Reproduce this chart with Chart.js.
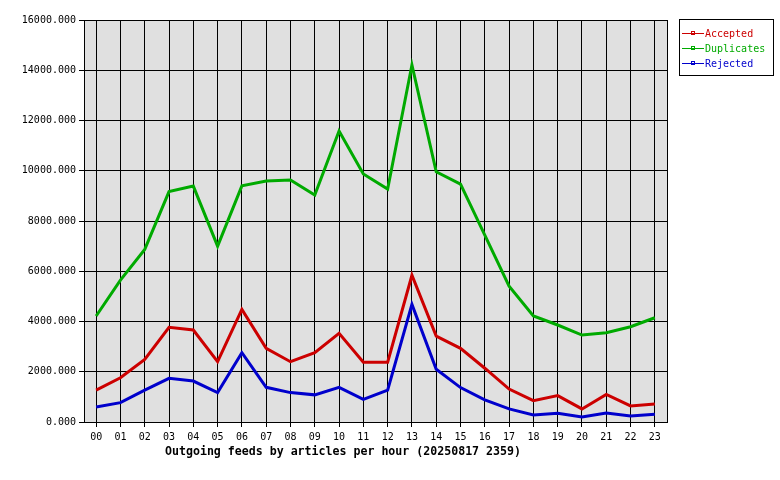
<!DOCTYPE html>
<html>
<head>
<meta charset="utf-8">
<script src="https://cdn.jsdelivr.net/npm/chart.js@4"></script>
<style>
  html,body{margin:0;padding:0;background:#fff;}
  #wrap{width:780px;height:480px;position:relative;}
</style>
</head>
<body>
<div id="wrap"><canvas id="c" width="780" height="480"></canvas></div>
<script>
const hours = ["00","01","02","03","04","05","06","07","08","09","10","11","12","13","14","15","16","17","18","19","20","21","22","23"];
const accepted   = [1270,1760,2490,3770,3660,2400,4480,2930,2400,2760,3530,2380,2380,5840,3420,2930,2140,1310,850,1050,520,1100,640,720];
const duplicates = [4220,5650,6870,9170,9390,7000,9400,9590,9630,9030,11580,9870,9270,14210,9960,9470,7440,5410,4220,3860,3460,3550,3790,4150];
const rejected   = [600,770,1270,1740,1630,1170,2760,1380,1170,1080,1380,900,1270,4680,2100,1370,880,520,280,350,200,360,240,310];
const yTicks = [0,2000,4000,6000,8000,10000,12000,14000,16000];
const seriesNames = ["Accepted","Duplicates","Rejected"];
const titleText = "Outgoing feeds by articles per hour (20250817 2359)";

const colors = ["#cc0000","#00aa00","#0000cc"];
const MONO = "'DejaVu Sans Mono', monospace";

const bgPlugin = {
  id:'bg',
  beforeDraw(chart){
    const {ctx, chartArea:a} = chart;
    ctx.save();
    ctx.fillStyle = '#e0e0e0';
    ctx.fillRect(a.left, a.top, a.right-a.left, a.bottom-a.top);
    ctx.restore();
  },
  afterDraw(chart){
    const {ctx, chartArea:a} = chart;
    ctx.save();
    ctx.strokeStyle = '#000';
    ctx.lineWidth = 1;
    ctx.strokeRect(Math.round(a.left)+0.5, Math.round(a.top)+0.5, Math.round(a.right-a.left), Math.round(a.bottom-a.top));
    // title
    ctx.fillStyle = '#000';
    ctx.font = "bold 11.6px " + MONO;
    ctx.textAlign = 'left';
    ctx.textBaseline = 'middle';
    ctx.fillText(titleText, 165, 452);
    // legend
    const lx = 679, ly = 19, lw = 94, lh = 56;
    ctx.fillStyle = '#fff';
    ctx.fillRect(lx, ly, lw, lh);
    ctx.strokeStyle = '#000';
    ctx.strokeRect(lx+0.5, ly+0.5, lw, lh);
    ctx.font = "10px " + MONO;
    chart.data.datasets.forEach((ds, i) => {
      const y = 33 + i*15;
      ctx.strokeStyle = ds.borderColor;
      ctx.lineWidth = 1;
      ctx.beginPath();
      ctx.moveTo(682, y+0.5);
      ctx.lineTo(704, y+0.5);
      ctx.stroke();
      ctx.strokeRect(691.5, y-1.5, 3, 3);
      ctx.fillStyle = ds.borderColor;
      ctx.fillText(ds.label, 705, y+1);
    });
    ctx.restore();
  }
};

new Chart(document.getElementById('c'), {
  type:'line',
  data:{
    labels: hours,
    datasets: [accepted, duplicates, rejected].map((d,i)=>({
      label: seriesNames[i],
      data: d,
      borderColor: colors[i],
      backgroundColor: colors[i],
      borderWidth: 3,
      pointRadius: 0,
      tension: 0,
      fill: false
    }))
  },
  plugins:[bgPlugin],
  options:{
    responsive:false,
    animation:false,
    layout:{padding:{top:20,right:113,left:0,bottom:0}},
    plugins:{legend:{display:false}, title:{display:false}, tooltip:{enabled:false}},
    scales:{
      x:{
        offset:true,
        grid:{offset:false, color:'#000', lineWidth:1, tickLength:5, drawTicks:true},
        border:{display:true, color:'#000'},
        ticks:{color:'#000', font:{family:MONO, size:10}, padding:4, maxRotation:0, autoSkip:false},
        afterFit(s){ s.height = 58; }
      },
      y:{
        min:0, max:16000,
        afterBuildTicks(s){ s.ticks = yTicks.map(v=>({value:v})); },
        grid:{color:'#000', lineWidth:1, tickLength:5, drawTicks:true},
        border:{display:true, color:'#000'},
        ticks:{color:'#000', font:{family:MONO, size:10}, padding:3, callback:v=>Number(v).toFixed(3)},
        afterFit(s){ s.width = 84; }
      }
    }
  }
});
</script>
</body>
</html>
